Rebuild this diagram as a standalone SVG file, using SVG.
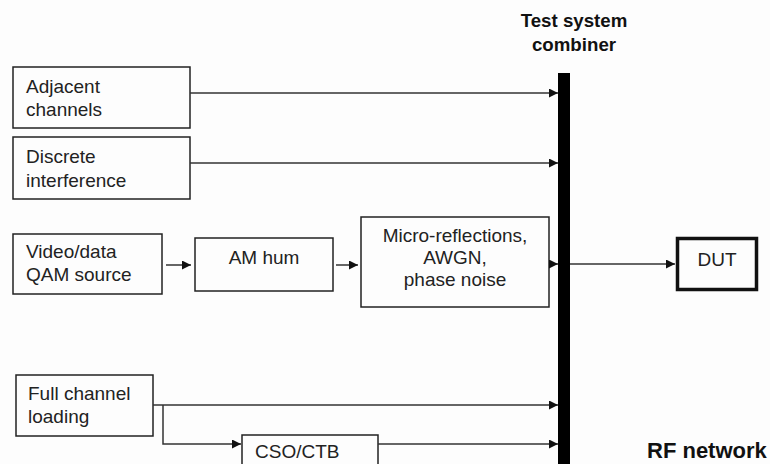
<svg xmlns="http://www.w3.org/2000/svg" width="770" height="464" viewBox="0 0 770 464">
<defs>
<marker id="ah" viewBox="0 0 10 10" refX="10" refY="5" markerWidth="9" markerHeight="9" markerUnits="userSpaceOnUse" orient="auto">
<path d="M0,0 L10,5 L0,10 z" fill="#111"/>
</marker>
<style>
.box{fill:#fdfdfd;stroke:#222;stroke-width:1.5}
.t{font-family:"Liberation Sans",Arial,sans-serif;font-size:19px;fill:#222}
.c{text-anchor:middle}
.b{font-family:"Liberation Sans",Arial,sans-serif;font-weight:bold;fill:#111}
.ln{fill:none;stroke:#333;stroke-width:1.5}
</style>
</defs>
<rect width="770" height="464" fill="#fdfdfd"/>
<g id="combiner">
<rect x="558" y="73" width="12" height="391" fill="#000"/>
<text class="b c" x="574" y="27" font-size="18.7">Test system</text>
<text class="b c" x="574" y="51" font-size="18.7">combiner</text>
</g>
<g id="adjacent">
<rect class="box" x="13" y="67" width="177" height="61"/>
<text class="t" x="26" y="93">Adjacent</text>
<text class="t" x="26" y="116">channels</text>
</g>
<g id="discrete">
<rect class="box" x="13" y="137" width="177" height="62"/>
<text class="t" x="26" y="163">Discrete</text>
<text class="t" x="26" y="187">interference</text>
</g>
<g id="video">
<rect class="box" x="13" y="234" width="149" height="60"/>
<text class="t" x="26" y="258">Video/data</text>
<text class="t" x="26" y="281">QAM source</text>
</g>
<g id="amhum">
<rect class="box" x="195" y="238" width="138" height="53"/>
<text class="t c" x="264" y="264">AM hum</text>
</g>
<g id="micro">
<rect class="box" x="361" y="217" width="188" height="90"/>
<text class="t c" x="455" y="242">Micro-reflections,</text>
<text class="t c" x="455" y="264">AWGN,</text>
<text class="t c" x="455" y="286">phase noise</text>
</g>
<g id="dut">
<rect x="677.5" y="238.5" width="79" height="51" fill="#fdfdfd" stroke="#111" stroke-width="3.5"/>
<text class="t c" x="717" y="266">DUT</text>
</g>
<g id="full">
<rect class="box" x="16" y="375" width="137" height="61"/>
<text class="t" x="28" y="400">Full channel</text>
<text class="t" x="28" y="423">loading</text>
</g>
<g id="csoctb">
<rect class="box" x="242" y="435" width="136" height="40"/>
<text class="t" x="255" y="458">CSO/CTB</text>
</g>
<g id="rfnetwork">
<text class="b" x="647" y="458" font-size="22">RF network</text>
</g>
<g id="connectors">
<path class="ln" d="M190,93 H558" marker-end="url(#ah)"/>
<path class="ln" d="M190,163 H558" marker-end="url(#ah)"/>
<path class="ln" d="M166,265 H191" marker-end="url(#ah)"/>
<path class="ln" d="M336,265 H358" marker-end="url(#ah)"/>
<path class="ln" d="M549,264 H558" marker-end="url(#ah)"/>
<path class="ln" d="M570,264 H675" marker-end="url(#ah)"/>
<path class="ln" d="M153,405 H558" marker-end="url(#ah)"/>
<path class="ln" d="M163,405 V444 H241" marker-end="url(#ah)"/>
<path class="ln" d="M378,444 H558" marker-end="url(#ah)"/>
</g>
</svg>
